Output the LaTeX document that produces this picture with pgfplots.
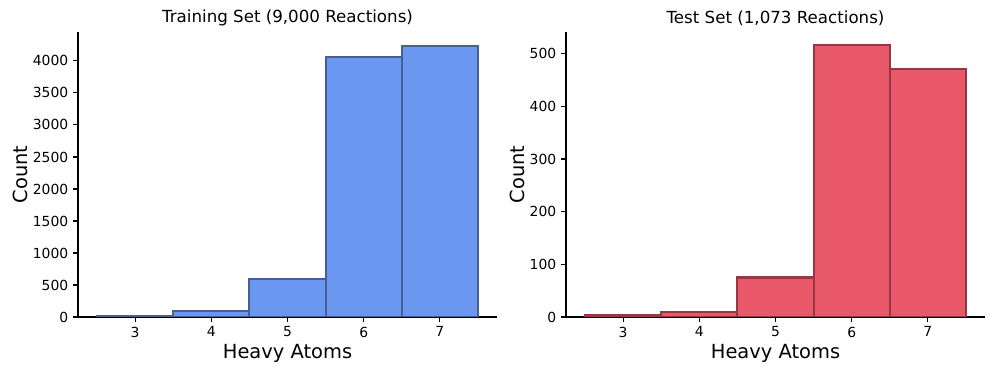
\documentclass[border=0pt]{standalone}
\usepackage{fontspec}
\setmainfont{DejaVu Sans}
\usepackage{pgfplots}
\pgfplotsset{compat=1.18}

\definecolor{trainfill}{RGB}{106,151,240}
\definecolor{trainedge}{RGB}{72,95,150}
\definecolor{testfill}{RGB}{233,88,104}
\definecolor{testedge}{RGB}{150,55,70}

\pgfplotsset{
  histo/.style={
    scale only axis,
    width=301.7pt, height=205.2pt,
    axis x line*=bottom, axis y line*=left,
    axis line style={line width=0.8pt},
    tick align=outside,
    major tick length=3.5pt,
    tick style={line width=0.8pt, black},
    xmin=2.25, xmax=7.75, ymin=0,
    xtick={3,4,5,6,7},
    ybar, bar width=1, bar shift=0pt,
    ticklabel style={font=\fontsize{10}{12}\selectfont},
    /pgf/number format/assume math mode=true,
    /pgf/number format/1000 sep={},
    xlabel={Heavy Atoms},
    ylabel={Count},
    label style={font=\fontsize{14}{16}\selectfont},
    title style={font=\fontsize{12}{14}\selectfont, yshift=-5pt},
    xlabel style={yshift=2pt},
    ylabel style={yshift=-3pt},
  }
}

\begin{document}
\begin{tikzpicture}
  \useasboundingbox (-56.16pt,-41.04pt) rectangle (660.96pt,228.24pt);
  \begin{axis}[histo, at={(0pt,0pt)},
    ymax=4452, ytick={0,500,...,4000},
    title={Training Set (9,000 Reactions)}]
    \addplot[fill=trainfill, draw=trainedge, line width=1.5pt]
      coordinates {(3,15) (4,95) (5,590) (6,4065) (7,4235)};
  \end{axis}
  \begin{axis}[histo, at={(351.36pt,0pt)},
    ymax=541, ytick={0,100,...,500},
    title={Test Set (1,073 Reactions)}]
    \addplot[fill=testfill, draw=testedge, line width=1.5pt]
      coordinates {(3,3) (4,9) (5,75) (6,516) (7,470)};
  \end{axis}
\end{tikzpicture}
\end{document}
